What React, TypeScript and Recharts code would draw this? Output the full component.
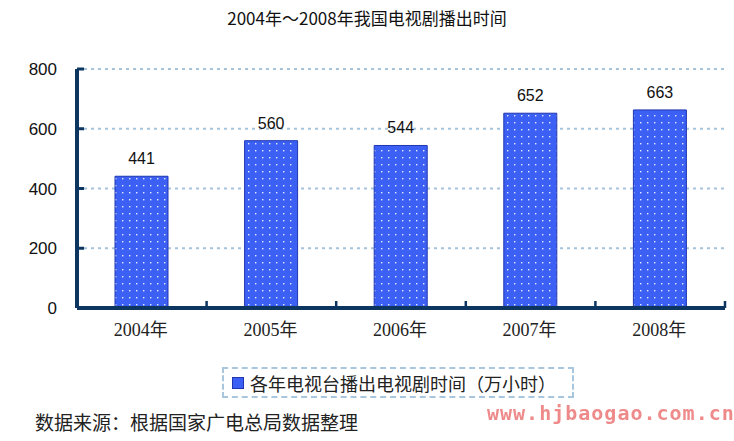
import React from 'react';
import { BarChart, Bar, XAxis, YAxis, CartesianGrid, LabelList } from 'recharts';

const years = ['2004年', '2005年', '2006年', '2007年', '2008年'];
const hours = [441, 560, 544, 652, 663];
const yTicks = [0, 200, 400, 600, 800];

const data = years.map((year, i) => ({ year, hours: hours[i] }));

const AXIS = '#0c355f';
const BAND = 129.6;

const YTick = (props: any) => {
  const { x, y, payload } = props;
  return (
    <g>
      <text x={x - 12} y={y} dy={6} textAnchor="end" fontSize={17} fill="#111" fontFamily="Liberation Sans, Arial, sans-serif">
        {payload.value}
      </text>
      <line x1={77} x2={84} y1={y} y2={y} stroke={AXIS} strokeWidth={3} />
    </g>
  );
};

const XTick = (props: any) => {
  const { x, y, payload } = props;
  return (
    <g>
      <line x1={x + BAND / 2} x2={x + BAND / 2} y1={308} y2={301} stroke={AXIS} strokeWidth={2.5} />
      <text x={x - 1} y={y} dy={20} textAnchor="middle" fontSize={18} fill="#222" fontFamily="Liberation Serif, Noto Sans CJK SC, serif">
        {payload.value}
      </text>
    </g>
  );
};

export default function App() {
  return (
    <div style={{ position: 'fixed', left: 0, top: 0, width: 734, height: 441, background: '#fff', fontFamily: '"Noto Sans CJK SC", sans-serif' }}>
      <div style={{ position: 'absolute', top: 5, left: 0, width: 734, textAlign: 'center', fontSize: 17, color: '#111' }}>
        2004年～2008年我国电视剧播出时间
      </div>
      <BarChart width={734} height={441} data={data} margin={{ top: 69, right: 9, left: 0, bottom: 103 }} barCategoryGap="30%">
        <defs>
          <pattern id="dots" width="7" height="7" patternUnits="userSpaceOnUse">
            <rect width="7" height="7" fill="#3c60f3" />
            <rect x="3" y="3" width="1.4" height="1.4" fill="#e4eaff" />
          </pattern>
        </defs>
        <CartesianGrid vertical={false} stroke="#a6c4dc" strokeDasharray="3 4" strokeWidth={2} />
        <YAxis
          width={77}
          domain={[0, 800]}
          ticks={yTicks}
          interval={0}
          tickLine={false}
          axisLine={{ stroke: AXIS, strokeWidth: 4 }}
          tick={<YTick />}
        />
        <XAxis
          dataKey="year"
          height={30}
          tickLine={false}
          axisLine={{ stroke: AXIS, strokeWidth: 4 }}
          tick={<XTick />}
        />
        <Bar dataKey="hours" fill="url(#dots)" stroke="#1f36b0" strokeWidth={1} barSize={53} isAnimationActive={false}>
          <LabelList dataKey="hours" position="top" offset={12} fontSize={16} fill="#111" fontFamily="Liberation Sans, Arial, sans-serif" />
        </Bar>
      </BarChart>
      <div style={{ position: 'absolute', left: 222, top: 367, width: 348, height: 27, border: '2px dashed #a8c6de', display: 'flex', alignItems: 'center', fontSize: 18, color: '#222' }}>
        <span style={{ display: 'inline-block', width: 10, height: 10, background: '#3c60f3', border: '1px solid #1f36b0', marginLeft: 8, marginRight: 6 }} />
        各年电视台播出电视剧时间（万小时）
      </div>
      <div style={{ position: 'absolute', left: 35, top: 408, fontSize: 19, color: '#222' }}>
        数据来源：根据国家广电总局数据整理
      </div>
      <div style={{ position: 'absolute', left: 487, top: 401, fontSize: 20, color: '#ee8a8a', fontFamily: '"DejaVu Sans Mono", monospace', letterSpacing: 1, fontWeight: 'bold' }}>
        www.hjbaogao.com.cn
      </div>
    </div>
  );
}
